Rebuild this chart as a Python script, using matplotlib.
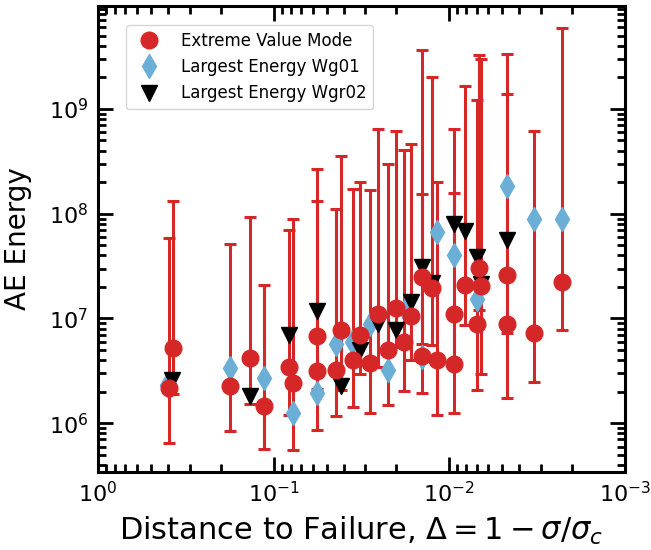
import matplotlib
matplotlib.use("Agg")
import matplotlib.pyplot as plt
import numpy as np

# Extreme value mode: distance to failure, energy, upper / lower error bar ends
evm_x = [0.394, 0.374, 0.1773, 0.1364, 0.1136, 0.0818, 0.0777, 0.0567, 0.0567,
         0.0442, 0.0414, 0.0354, 0.0323, 0.0283, 0.0255, 0.02236, 0.0201, 0.01813,
         0.01654, 0.01432, 0.01432, 0.01256, 0.01177, 0.00941, 0.00941, 0.00815,
         0.00678, 0.00661, 0.00697, 0.0047, 0.0047, 0.0033, 0.002285]
evm_y = [2.19e6, 5.20e6, 2.25e6, 4.20e6, 1.475e6, 3.44e6, 2.42e6, 6.87e6, 3.16e6,
         3.25e6, 7.72e6, 4.05e6, 7.02e6, 3.80e6, 1.10e7, 4.97e6, 1.27e7, 5.97e6,
         1.05e7, 2.49e7, 4.36e6, 1.95e7, 3.99e6, 1.11e7, 3.71e6, 2.11e7,
         3.06e7, 2.03e7, 8.94e6, 2.58e7, 8.94e6, 7.27e6, 2.23e7]
evm_hi = [5.92e7, 1.33e8, 5.18e7, 9.38e7, 2.11e7, 6.94e7, 8.98e7, 2.69e8, 1.31e8,
          1.12e8, 3.55e8, 1.74e8, 2.01e8, 1.70e8, 6.49e8, 3.01e8, 6.11e8, 4.09e8,
          4.67e8, 3.62e9, 1.53e8, 2.02e9, 2.01e8, 6.49e8, 1.56e8, 1.64e9,
          3.25e9, 3.02e9, 1.23e9, 3.37e9, 1.38e9, 6.11e8, 5.97e9]
evm_lo = [6.55e5, 1.92e6, 8.39e5, 1.52e6, 5.74e5, 1.21e6, 5.53e5, 2.11e6, 8.71e5,
          1.166e6, 2.06e6, 1.43e6, 2.93e6, 1.24e6, 3.44e6, 1.51e6, 5.35e6, 2.02e6,
          4.05e6, 5.76e6, 1.95e6, 5.55e6, 1.19e6, 3.58e6, 1.265e6, 8.61e6,
          1.20e7, 2.98e6, 2.06e6, 7.34e6, 1.76e6, 2.45e6, 7.72e6]

# Largest energy, Wg01
wg01_x = [0.405, 0.1773, 0.1136, 0.0777, 0.0567, 0.0442, 0.0358, 0.0283, 0.02236,
          0.0179, 0.01432, 0.01177, 0.00941, 0.00697, 0.0047, 0.0033, 0.002285]
wg01_y = [2.30e6, 3.35e6, 2.73e6, 1.24e6, 1.96e6, 5.67e6, 5.93e6, 8.94e6, 3.20e6,
          1.20e7, 4.26e6, 6.69e7, 4.01e7, 1.55e7, 1.84e8, 8.98e7, 8.98e7]

# Largest energy, Wgr02
wgr02_x = [0.379, 0.1364, 0.0818, 0.0567, 0.0414, 0.0323, 0.0255, 0.0201, 0.01654,
           0.01432, 0.01256, 0.00941, 0.00815, 0.00697, 0.00661, 0.0047]
wgr02_y = [2.57e6, 1.81e6, 6.91e6, 1.17e7, 2.25e6, 4.97e6, 8.94e6, 7.72e6, 1.43e7,
           3.10e7, 2.17e7, 7.92e7, 6.84e7, 3.86e7, 2.12e7, 5.57e7]

red = '#d62728'
blue = '#6baed6'

fig = plt.figure(figsize=(6.51, 5.5), dpi=100)
ax = fig.add_axes([0.1505, 0.1424, 0.8095, 0.8466])

y = np.array(evm_y)
yerr = [y - np.array(evm_lo), np.array(evm_hi) - y]
ax.errorbar(evm_x, evm_y, yerr=yerr, fmt='none', ecolor=red, elinewidth=2.2,
            capsize=4.5, capthick=2.2, zorder=1)
h2, = ax.plot(wg01_x, wg01_y, 'd', color=blue, ms=12, ls='none', zorder=2,
              label='Largest Energy Wg01')
h3, = ax.plot(wgr02_x, wgr02_y, 'v', color='black', ms=11, ls='none', zorder=3,
              label='Largest Energy Wgr02')
h1, = ax.plot(evm_x, evm_y, 'o', color=red, ms=12, ls='none', zorder=4,
              label='Extreme Value Mode')

ax.set_xscale('log')
ax.set_yscale('log')
ax.set_xlim(1, 1e-3)
ax.set_ylim(3.45e5, 9.6e9)

ax.set_xlabel(r'Distance to Failure, $\Delta = 1 - \sigma/\sigma_c$', fontsize=22,
              labelpad=6)
ax.set_ylabel('AE Energy', fontsize=20, labelpad=12)

for s in ax.spines.values():
    s.set_linewidth(2.2)
ax.tick_params(which='both', direction='in', top=True, right=True, width=2)
ax.tick_params(which='major', length=11, labelsize=16, pad=7)
ax.tick_params(which='minor', length=6)

ax.legend(handles=[h1, h2, h3], loc='upper left', bbox_to_anchor=(0.053, 0.959),
          borderaxespad=0, fontsize=12, numpoints=1, handletextpad=0.9)

fig.savefig('out.png', dpi=100)
